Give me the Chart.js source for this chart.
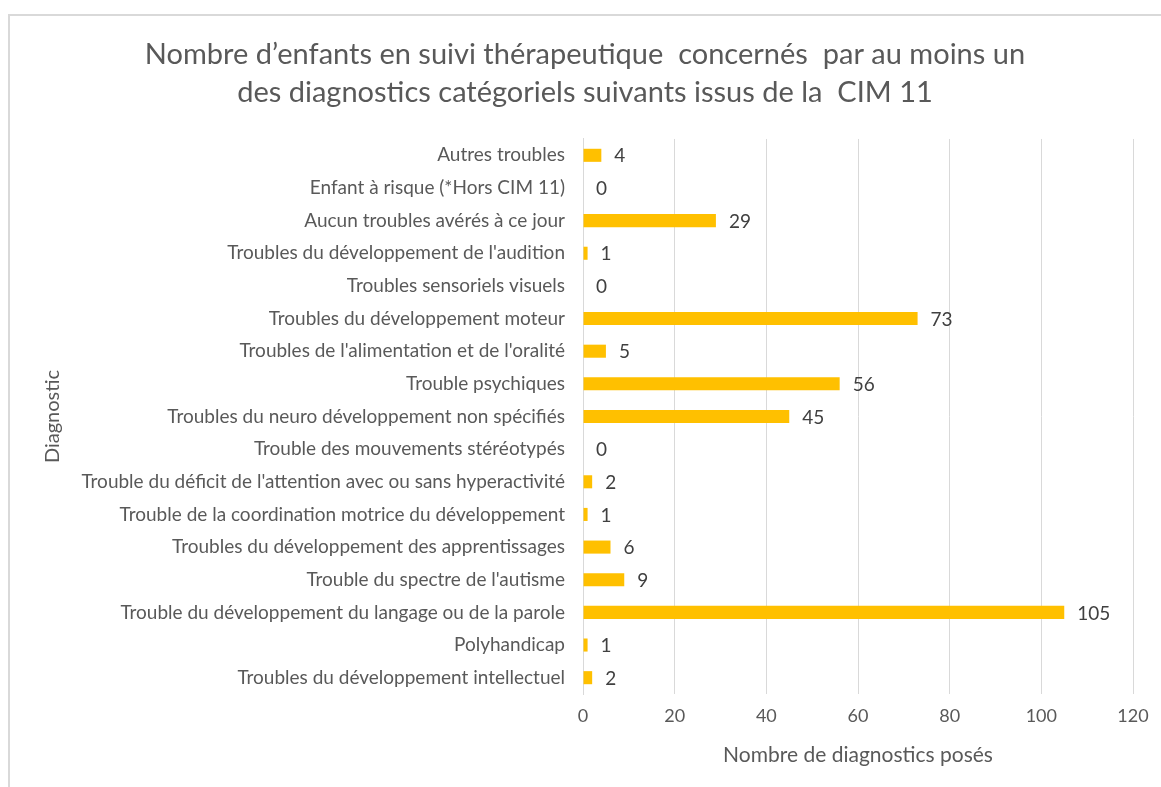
<!DOCTYPE html>
<html>
<head>
<meta charset="utf-8">
<script src="https://cdn.jsdelivr.net/npm/chart.js@4"></script>
<style>
  html, body { margin: 0; padding: 0; background: #ffffff; }
  #wrap { position: relative; width: 1161px; height: 787px; overflow: hidden; }
  #frame { position: absolute; left: 8px; top: 14px; width: 1200px; height: 800px;
           border-left: 2px solid #d9d9d9; border-top: 2px solid #d9d9d9; }
  canvas { position: absolute; left: 0; top: 0; }
</style>
</head>
<body>
<div id="wrap">
  <div id="frame"></div>
  <canvas id="c" width="1161" height="787"></canvas>
</div>
<script>
const titleLines = [
  "Nombre d\u2019enfants en suivi thérapeutique  concernés  par au moins un",
  "des diagnostics catégoriels suivants issus de la  CIM 11"
];
const categories = [
  "Autres troubles",
  "Enfant à risque (*Hors CIM 11)",
  "Aucun troubles avérés à ce jour",
  "Troubles du développement de l'audition",
  "Troubles sensoriels visuels",
  "Troubles du développement moteur",
  "Troubles de l'alimentation et de l'oralité",
  "Trouble psychiques",
  "Troubles du neuro développement non spécifiés",
  "Trouble des mouvements stéréotypés",
  "Trouble du déficit de l'attention avec ou sans hyperactivité",
  "Trouble de la coordination motrice du développement",
  "Troubles du développement des apprentissages",
  "Trouble du spectre de l'autisme",
  "Trouble du développement du langage ou de la parole",
  "Polyhandicap",
  "Troubles du développement intellectuel"
];
const values = [4, 0, 29, 1, 0, 73, 5, 56, 45, 0, 2, 1, 6, 9, 105, 1, 2];
const xAxisTitle = "Nombre de diagnostics posés";
const yAxisTitle = "Diagnostic";

const FONT = "Lato, 'Open Sans', sans-serif";

const valueLabels = {
  id: 'valueLabels',
  afterDatasetsDraw(chart) {
    const ctx = chart.ctx;
    const meta = chart.getDatasetMeta(0);
    ctx.save();
    ctx.font = "19px " + FONT;
    ctx.fillStyle = "#404040";
    ctx.textBaseline = "middle";
    ctx.textAlign = "left";
    meta.data.forEach((bar, i) => {
      ctx.fillText(String(chart.data.datasets[0].data[i]), bar.x + 13, bar.y + 1);
    });
    ctx.restore();
  }
};

new Chart(document.getElementById('c'), {
  type: 'bar',
  data: {
    labels: categories,
    datasets: [{
      data: values,
      backgroundColor: '#FFC000',
      borderWidth: 0,
      barPercentage: 0.4,
      categoryPercentage: 1.0
    }]
  },
  options: {
    indexAxis: 'y',
    responsive: false,
    animation: false,
    layout: { padding: { left: 37, right: 28, top: 0, bottom: 0 } },
    plugins: {
      legend: { display: false },
      tooltip: { enabled: false },
      title: {
        display: true,
        text: titleLines,
        color: '#595959',
        font: { family: FONT, size: 29, weight: 'normal', lineHeight: 1.31 },
        padding: { top: 36, bottom: 27 }
      }
    },
    scales: {
      x: {
        min: 0, max: 120,
        ticks: { stepSize: 20, color: '#595959', font: { family: FONT, size: 18 }, padding: 11 },
        grid: { color: '#d9d9d9', drawTicks: false, lineWidth: 1 },
        border: { display: false },
        title: { display: true, text: xAxisTitle, color: '#595959',
                 font: { family: FONT, size: 21 }, padding: { top: 4, bottom: 19 } },
        afterFit(scale) { scale.height = 93; }
      },
      y: {
        ticks: { color: '#595959', font: { family: FONT, size: 19 }, padding: 18, autoSkip: false },
        grid: { display: false, drawTicks: false },
        border: { display: true, color: '#d9d9d9', width: 1 },
        title: { display: true, text: yAxisTitle, color: '#595959',
                 font: { family: FONT, size: 20 }, padding: { top: 4, bottom: 4 } },
        afterFit(scale) { scale.width = 546; }
      }
    }
  },
  plugins: [valueLabels]
});
</script>
</body>
</html>
